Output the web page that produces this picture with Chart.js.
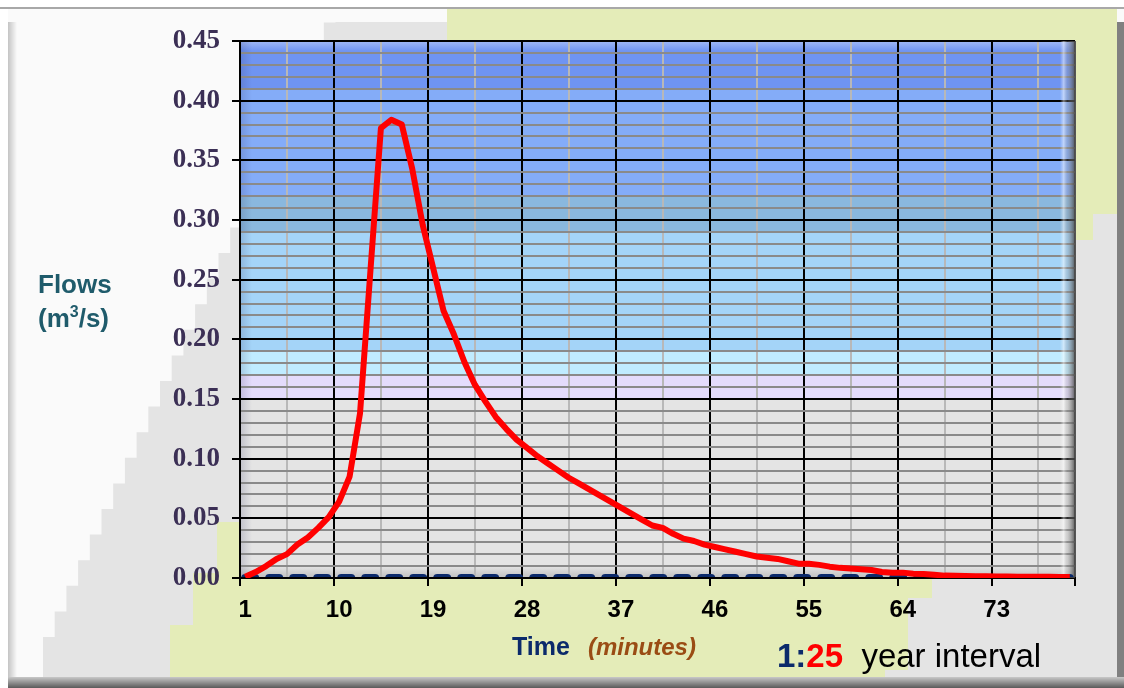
<!DOCTYPE html>
<html>
<head>
<meta charset="utf-8">
<title>Flows - 1:25 year interval</title>
<script src="https://cdn.jsdelivr.net/npm/chart.js@4.4.0/dist/chart.umd.min.js"></script>
<style>
  html, body { margin: 0; padding: 0; background: #fff; }
  #wrap { position: relative; width: 1124px; height: 688px; overflow: hidden; }
  #chart { position: absolute; left: 0; top: 0; }
  .lbl { position: absolute; white-space: pre; font-family: 'Liberation Sans', Arial, sans-serif; }
  #flows { left: 38px; top: 267px; font-size: 26px; line-height: 34px; font-weight: bold; color: #1f5b6b; }
  #flows span { position: relative; top: -10px; font-size: 16px; }
  #time { left: 512px; top: 634px; font-size: 25px; line-height: 25px; font-weight: bold; color: #0b2a6b; }
  #time i { color: #9a4c14; font-size: 24px; margin-left: 18px; }
  #interval { left: 777px; top: 639px; font-size: 33px; line-height: 33px; color: #000; }
</style>
</head>
<body>
<div id="wrap">
  <canvas id="chart" width="1124" height="688"></canvas>
  <div class="lbl" id="flows">Flows<br>(m<span>3</span>/s)</div>
  <div class="lbl" id="time">Time<i>(minutes)</i></div>
  <div class="lbl" id="interval"><b style="color:#0b2a6b">1:</b><b style="color:#ff0000">25</b>  year interval</div>
</div>
<script>
// time steps (minutes)
const minutes = [
  1, 2, 3, 4, 5, 6, 7, 8, 9, 10, 11, 12, 13, 14, 15, 16, 17, 18, 19, 20,
  21, 22, 23, 24, 25, 26, 27, 28, 29, 30, 31, 32, 33, 34, 35, 36, 37, 38, 39, 40,
  41, 42, 43, 44, 45, 46, 47, 48, 49, 50, 51, 52, 53, 54, 55, 56, 57, 58, 59, 60,
  61, 62, 63, 64, 65, 66, 67, 68, 69, 70, 71, 72, 73, 74, 75, 76, 77, 78, 79, 80
];

// flows in m3/s
const flows = [
  0.001, 0.005, 0.010, 0.016, 0.020, 0.028, 0.034, 0.042, 0.051, 0.064,
  0.085, 0.138, 0.258, 0.377, 0.384, 0.380, 0.343, 0.296, 0.260, 0.224,
  0.204, 0.181, 0.162, 0.148, 0.135, 0.125, 0.116, 0.109, 0.102, 0.096,
  0.090, 0.084, 0.079, 0.074, 0.069, 0.064, 0.059, 0.054, 0.049, 0.044,
  0.042, 0.037, 0.033, 0.031, 0.028, 0.026, 0.024, 0.022, 0.020, 0.018,
  0.017, 0.016, 0.014, 0.012, 0.012, 0.011, 0.0095, 0.0085, 0.008, 0.0073,
  0.0067, 0.005, 0.0045, 0.0045, 0.0036, 0.0034, 0.0028, 0.002, 0.0018, 0.0016,
  0.0015, 0.0014, 0.0013, 0.0012, 0.0011, 0.0011, 0.0010, 0.0010, 0.0009, 0.0009
];

// base flow (dashed line)
const baseFlow = [
  0, 0, 0, 0, 0, 0, 0, 0, 0, 0, 0, 0, 0, 0, 0, 0, 0, 0, 0, 0,
  0, 0, 0, 0, 0, 0, 0, 0, 0, 0, 0, 0, 0, 0, 0, 0, 0, 0, 0, 0,
  0, 0, 0, 0, 0, 0, 0, 0, 0, 0, 0, 0, 0, 0, 0, 0, 0, 0, 0, 0,
  0, 0, 0, 0, 0, 0, 0, 0, 0, 0, 0, 0, 0, 0, 0, 0, 0, 0, 0, 0
];

const xTickLabels = [1, 10, 19, 28, 37, 46, 55, 64, 73];
const yTickLabels = ['0.00', '0.05', '0.10', '0.15', '0.20', '0.25', '0.30', '0.35', '0.40', '0.45'];

// coloured bands behind the plot
const bandStops = [0.45, 0.41, 0.32, 0.29, 0.19, 0.17, 0.15, 0];
const bandColors = ['#6f94f2', '#84acf8', '#8ab8de', '#a4d4f8', '#c0ecff', '#e4dcfc', '#e4e4e4'];

const isMajorX = v => v > 0.5 && v < 80.5 && (v - 0.5) % 9 === 0;
const isMinorX = v => (v - 5) % 9 === 0;

const backdrop = {
  id: 'backdrop',
  beforeDraw(chart) {
    const { ctx, chartArea: a, scales: { y } } = chart;
    ctx.save();
    ctx.fillStyle = '#ffffff';
    ctx.fillRect(0, 0, 1124, 688);
    ctx.fillStyle = '#fafafa';
    ctx.fillRect(8, 9, 1116, 669);
    ctx.fillStyle = '#a8a8a8';
    ctx.fillRect(0, 7, 1124, 2);

    // grey staircase
    ctx.fillStyle = '#e4e4e4';
    ctx.beginPath();
    ctx.moveTo(1117, 678);
    ctx.lineTo(43, 678);
    let sx = 43, sy = 637;
    ctx.lineTo(sx, sy);
    while (sy > 22) {
      sx += 11.7;
      ctx.lineTo(sx, sy);
      sy = Math.max(22, sy - 25.6);
      ctx.lineTo(sx, sy);
    }
    ctx.lineTo(1117, 22);
    ctx.closePath();
    ctx.fill();

    // yellow-green patches
    ctx.fillStyle = '#e4ecb8';
    ctx.beginPath();
    ctx.moveTo(447, 9); ctx.lineTo(1117, 9); ctx.lineTo(1117, 214);
    ctx.lineTo(1093, 214); ctx.lineTo(1093, 240); ctx.lineTo(447, 240);
    ctx.closePath();
    ctx.fill();
    ctx.beginPath();
    ctx.moveTo(217, 522); ctx.lineTo(932, 522); ctx.lineTo(932, 598);
    ctx.lineTo(908, 598); ctx.lineTo(908, 670); ctx.lineTo(885, 670);
    ctx.lineTo(885, 678); ctx.lineTo(170, 678); ctx.lineTo(170, 625);
    ctx.lineTo(193, 625); ctx.lineTo(193, 573); ctx.lineTo(217, 573);
    ctx.closePath();
    ctx.fill();

    // frame bars
    let g = ctx.createLinearGradient(8, 0, 17, 0);
    g.addColorStop(0, '#c4c4c4');
    g.addColorStop(1, '#fafafa');
    ctx.fillStyle = g;
    ctx.fillRect(8, 22, 9, 656);
    ctx.fillStyle = '#808080';
    ctx.fillRect(1117, 22, 7, 656);
    g = ctx.createLinearGradient(0, 677, 0, 688);
    g.addColorStop(0, '#c8c8c8');
    g.addColorStop(1, '#5a5a5a');
    ctx.fillStyle = g;
    ctx.fillRect(8, 677, 1116, 11);

    // plot bands
    for (let i = 0; i < bandColors.length; i++) {
      const top = y.getPixelForValue(bandStops[i]);
      const bot = y.getPixelForValue(bandStops[i + 1]);
      ctx.fillStyle = bandColors[i];
      ctx.fillRect(a.left, top, a.right - a.left, bot - top);
    }
    // soft edges
    g = ctx.createLinearGradient(0, a.top, 0, a.top + 10);
    g.addColorStop(0, 'rgba(255,255,255,0.35)');
    g.addColorStop(1, 'rgba(255,255,255,0)');
    ctx.fillStyle = g;
    ctx.fillRect(a.left, a.top, a.right - a.left, 10);
    g = ctx.createLinearGradient(0, a.bottom - 12, 0, a.bottom);
    g.addColorStop(0, 'rgba(0,0,0,0)');
    g.addColorStop(1, 'rgba(0,0,0,0.16)');
    ctx.fillStyle = g;
    ctx.fillRect(a.left, a.bottom - 12, a.right - a.left, 12);
    g = ctx.createLinearGradient(a.left, 0, a.left + 12, 0);
    g.addColorStop(0, 'rgba(40,40,90,0.18)');
    g.addColorStop(1, 'rgba(40,40,90,0)');
    ctx.fillStyle = g;
    ctx.fillRect(a.left, a.top, 12, a.bottom - a.top);
    ctx.restore();
  },
  beforeDatasetsDraw(chart) {
    const { ctx, chartArea: a } = chart;
    ctx.save();
    const g = ctx.createLinearGradient(a.right - 15, 0, a.right, 0);
    g.addColorStop(0, 'rgba(255,255,255,0)');
    g.addColorStop(0.25, 'rgba(255,255,255,0.5)');
    g.addColorStop(0.5, 'rgba(150,150,150,0.3)');
    g.addColorStop(1, 'rgba(70,70,70,0.85)');
    ctx.fillStyle = g;
    ctx.fillRect(a.right - 15, a.top, 15, a.bottom - a.top);
    ctx.restore();
  }
};

new Chart(document.getElementById('chart'), {
  type: 'line',
  data: {
    datasets: [
      {
        label: 'Flow',
        data: flows.map((v, i) => ({ x: minutes[i], y: v })),
        borderColor: '#ff0000',
        borderWidth: 6,
        borderJoinStyle: 'round',
        pointRadius: 0,
        tension: 0,
        fill: false
      },
      {
        label: 'Base flow',
        data: baseFlow.map((v, i) => ({ x: minutes[i], y: v })),
        borderColor: '#0b2a6b',
        borderWidth: 8,
        borderDash: [10, 14],
        borderCapStyle: 'round',
        pointRadius: 0,
        fill: false,
        clip: { left: 0, top: 0, right: 0, bottom: -1 }
      }
    ]
  },
  options: {
    responsive: false,
    animation: false,
    layout: { padding: { left: 0, top: 41, right: 49, bottom: 0 } },
    plugins: { legend: { display: false }, tooltip: { enabled: false } },
    scales: {
      x: {
        type: 'linear',
        min: 0.5,
        max: 80.5,
        afterBuildTicks: s => {
          const t = [];
          for (let v = 0.5; v <= 80.5; v += 0.5) t.push({ value: v });
          s.ticks = t;
        },
        afterFit: s => { s.height = 110; },
        ticks: {
          autoSkip: false,
          maxRotation: 0,
          minRotation: 0,
          padding: 10,
          color: '#000',
          font: { family: "'Liberation Sans Narrow', 'Liberation Sans', Arial, sans-serif", size: 24, weight: 'bold' },
          callback: v => xTickLabels.includes(v) ? String(v) : ''
        },
        grid: {
          lineWidth: 2,
          tickLength: 8,
          color: c => isMajorX(c.tick.value) ? '#000' : isMinorX(c.tick.value) ? '#b8b8b8' : (c.tick.value === 80.5 ? '#555' : 'rgba(0,0,0,0)'),
          tickColor: c => (isMajorX(c.tick.value) || c.tick.value === 0.5 || c.tick.value === 80.5) ? '#000' : 'rgba(0,0,0,0)'
        },
        border: { color: '#000', width: 2 }
      },
      y: {
        min: 0,
        max: 0.45,
        afterBuildTicks: s => {
          const t = [];
          for (let k = 0; k <= 45; k++) t.push({ value: k / 100 });
          s.ticks = t;
        },
        afterFit: s => { s.width = 240; },
        ticks: {
          autoSkip: false,
          padding: 12,
          color: '#3b2f55',
          font: { family: "'Liberation Serif', 'Times New Roman', serif", size: 27, weight: 'bold' },
          callback: v => {
            const k = Math.round(v * 100);
            return k % 5 === 0 ? yTickLabels[k / 5] : '';
          }
        },
        grid: {
          lineWidth: 2,
          tickLength: 8,
          color: c => Math.round(c.tick.value * 100) % 5 === 0 ? '#000' : '#8a8a8a',
          tickColor: c => Math.round(c.tick.value * 100) % 5 === 0 ? '#000' : 'rgba(0,0,0,0)'
        },
        border: { color: '#000', width: 2 }
      }
    }
  },
  plugins: [backdrop]
});
</script>
</body>
</html>
